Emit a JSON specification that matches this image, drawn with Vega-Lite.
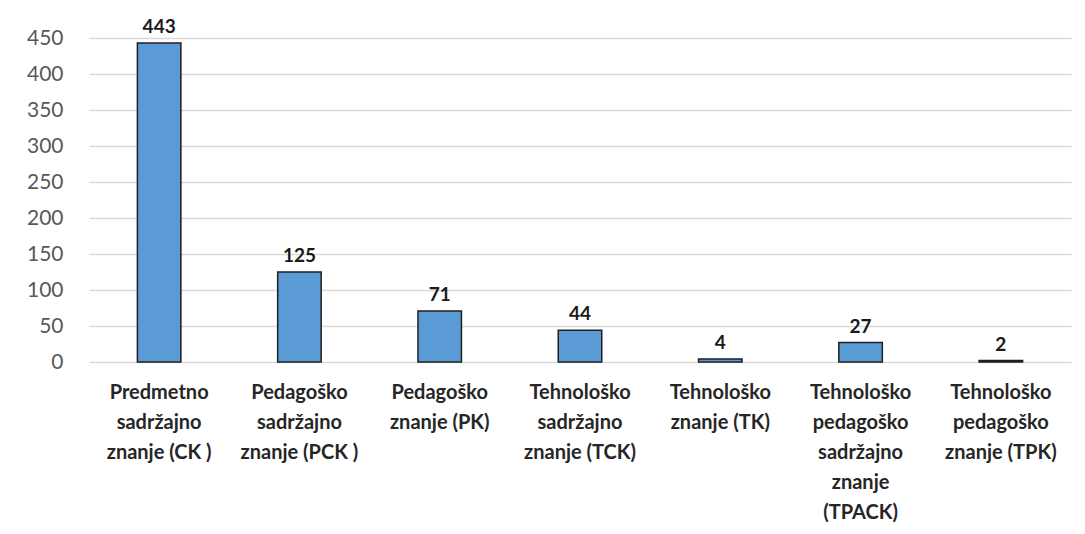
{
  "$schema": "https://vega.github.io/schema/vega-lite/v6.json",
  "autosize": {"type": "none"},
  "width": 982,
  "height": 324,
  "padding": {"left": 89, "top": 38, "right": 14, "bottom": 172},
  "background": "white",
  "config": {"view": {"stroke": null}},
  "data": {"values": [
    {"cat": "Predmetno|sadržajno|znanje (CK )", "value": 443},
    {"cat": "Pedagoško|sadržajno|znanje (PCK )", "value": 125},
    {"cat": "Pedagoško|znanje (PK)", "value": 71},
    {"cat": "Tehnološko|sadržajno|znanje (TCK)", "value": 44},
    {"cat": "Tehnološko|znanje (TK)", "value": 4},
    {"cat": "Tehnološko|pedagoško|sadržajno|znanje|(TPACK)", "value": 27},
    {"cat": "Tehnološko|pedagoško|znanje (TPK)", "value": 2}
  ]},
  "encoding": {
    "x": {"field": "cat", "type": "nominal", "sort": null,
      "scale": {"paddingInner": 0.69, "paddingOuter": 0.345},
      "axis": {"title": null, "labelAngle": 0, "domain": false, "ticks": false,
        "labelExpr": "split(datum.label, '|')",
        "labelFont": "Lato", "labelFontWeight": "bold", "labelFontSize": 20,
        "labelColor": "#262626", "labelLineHeight": 30, "labelPadding": 20,
        "labelBaseline": "top", "labelLimit": 200}},
    "y": {"field": "value", "type": "quantitative",
      "scale": {"domain": [0, 450], "nice": false},
      "axis": {"title": null, "values": [0,50,100,150,200,250,300,350,400,450],
        "domain": false, "ticks": false, "labelFont": "Lato", "labelFontSize": 21,
        "labelColor": "#595959", "labelPadding": 26,
        "gridColor": "#d9d9d9", "gridWidth": 1.5}}
  },
  "layer": [
    {"mark": {"type": "bar", "color": "#5B9BD5", "stroke": "#1f1f1f", "strokeWidth": 1.5}},
    {"mark": {"type": "text", "baseline": "bottom", "dy": -6, "font": "Lato",
      "fontWeight": "bold", "fontSize": 19, "color": "#1a1a1a"},
     "encoding": {"text": {"field": "value", "type": "quantitative"}}}
  ]
}
